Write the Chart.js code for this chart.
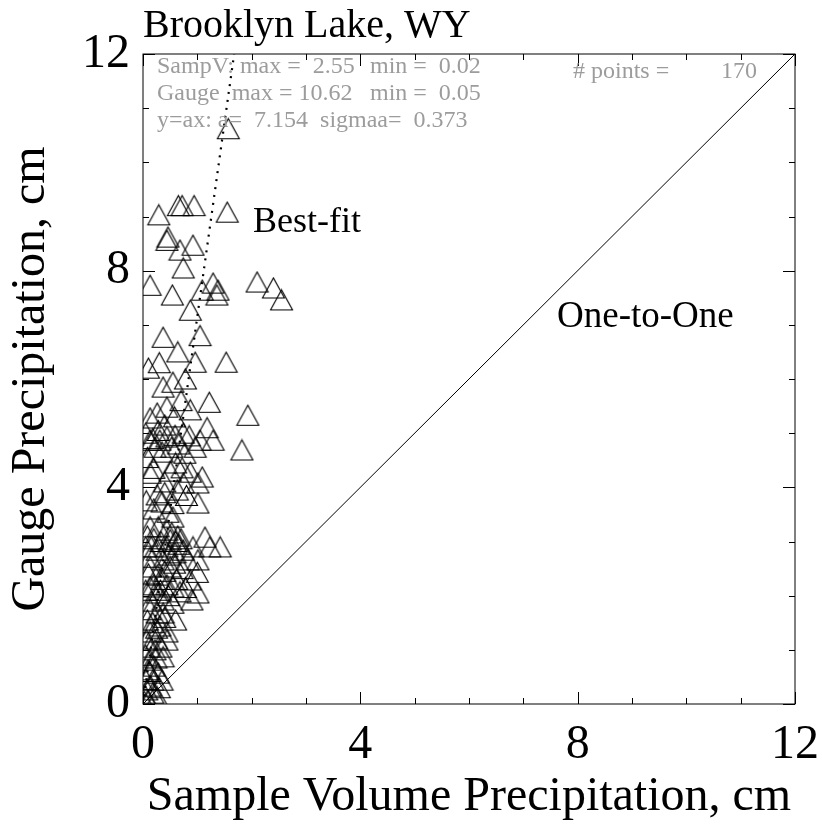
<!DOCTYPE html>
<html><head><meta charset="utf-8">
<script src="https://cdn.jsdelivr.net/npm/chart.js@4"></script>
<style>html,body{margin:0;padding:0;background:#fff;}#wrap{width:822px;height:826px;}</style>
</head><body><div id="wrap"><canvas id="c" width="822" height="826"></canvas></div>
<script>
const chartTitle = "Brooklyn Lake, WY";
const xTitle = "Sample Volume Precipitation, cm";
const yTitle = "Gauge Precipitation, cm";
const axisTickLabels = [0, 4, 8, 12];
const fitSlope = 7.154;
const fitSigma = 0.373;
const oneToOneEnds = [0, 12];

const sampleV = [
 1.57,1.55,0.29,0.72,0.65,0.94,0.44,0.46,0.68,0.92,
 0.74,0.13,0.54,1.09,1.29,1.38,1.36,2.10,2.40,2.55,
 0.87,0.37,0.64,0.96,1.53,0.37,0.55,1.22,1.93,1.82,
 0.87,0.44,0.26,0.13,1.18,1.29,1.05,0.96,0.74,0.59,
 0.44,0.31,0.13,0.53,0.35,0.22,0.77,0.72,0.87,0.13,
 1.09,1.01,0.74,0.63,0.26,0.35,1.01,0.46,0.55,0.13,
 0.28,0.44,0.53,0.50,0.64,1.14,1.42,1.23,0.92,0.74,
 1.01,0.83,0.59,0.44,0.26,0.13,0.37,0.50,0.13,0.26,
 1.00,0.87,1.01,0.90,0.68,0.55,0.44,0.13,0.26,0.37,
 0.55,0.13,0.26,0.37,0.18,0.31,0.44,0.13,0.07,0.44,
 0.22,0.37,0.13,0.09,0.28,0.18,0.35,0.07,0.18,0.26,
 0.09,0.02,0.60,0.70,0.66,0.58,0.48,0.40,0.33,0.20,
 0.08,0.05,0.10,0.20,0.32,0.47,0.62,0.72,0.78,0.15,
 0.08,0.25,0.33,0.11,0.05,0.20,0.05,0.14,0.30,0.04,
 0.12,0.24,0.50,0.60,0.40,0.20,0.08,0.28,0.05,0.18,
 0.66,0.85,0.40,0.58,0.70,0.20,0.06,0.40,0.80,0.55,
 0.10,0.30,0.78,1.05,0.25,0.40,0.60,0.15,0.35,0.05
];
const gauge = [
 10.62,9.08,9.03,9.20,9.20,9.20,8.56,8.62,8.38,8.47,
 8.05,7.73,7.55,7.64,7.77,7.64,7.55,7.79,7.68,7.46,
 7.27,6.77,6.50,6.31,6.31,5.85,5.94,5.57,5.33,4.69,
 5.43,5.48,5.37,5.28,5.10,4.87,4.87,4.74,5.00,4.96,
 4.93,4.87,4.87,4.74,4.65,4.74,4.63,4.36,4.28,4.26,
 4.19,4.08,4.08,3.95,3.86,3.73,3.71,3.54,3.45,3.27,
 3.27,3.21,3.16,3.03,3.10,3.08,2.90,2.90,2.90,2.84,
 2.66,2.66,2.79,2.90,2.84,2.71,2.66,2.53,2.53,2.38,
 2.43,2.29,2.05,1.92,2.07,2.16,2.20,2.16,2.05,1.92,
 1.86,1.74,1.68,1.68,1.50,1.44,1.33,1.33,1.18,1.18,
 1.00,0.87,0.81,0.63,0.57,0.44,0.44,0.26,0.20,0.13,
 0.07,0.05,3.00,3.05,2.95,2.60,2.75,2.45,3.00,3.05,
 3.10,2.90,2.40,2.20,2.10,2.00,2.30,2.50,2.15,1.90,
 1.55,1.20,1.05,1.05,0.90,0.70,0.45,0.33,0.30,0.15,
 0.60,0.85,4.30,4.45,4.10,4.35,4.55,5.05,5.00,4.90,
 4.80,4.95,5.15,5.30,5.60,3.60,3.75,3.90,3.85,3.70,
 6.20,6.30,6.00,6.80,1.40,1.60,1.55,2.90,2.30,2.10
];

function makeTriangle() {
  const c = document.createElement('canvas');
  c.width = 25; c.height = 23;
  const g = c.getContext('2d');
  g.strokeStyle = '#000'; g.lineWidth = 1.1;
  g.beginPath(); g.moveTo(1.5, 21.5); g.lineTo(12.5, 1.5); g.lineTo(23.5, 21.5); g.closePath(); g.stroke();
  return c;
}

const SERIF = '"Liberation Serif", "Times New Roman", serif';
const GRAY = '#9c9c9c';

function zeroPad(s) { s.paddingLeft = 0; s.paddingRight = 0; s.paddingTop = 0; s.paddingBottom = 0; }

const framePlugin = {
  id: 'frame',
  afterDatasetsDraw(chart) {
    const ctx = chart.ctx, a = chart.chartArea;
    const xs = chart.scales.x, ys = chart.scales.y;
    ctx.save();
    ctx.strokeStyle = '#000'; ctx.lineWidth = 1;
    ctx.strokeRect(a.left, a.top, a.right - a.left, a.bottom - a.top);
    ctx.beginPath();
    for (let v = 0; v <= 12; v++) {
      const len = v % 4 === 0 ? 12 : 6;
      const px = Math.round(xs.getPixelForValue(v)) + 0.5;
      ctx.moveTo(px, a.bottom); ctx.lineTo(px, a.bottom - len);
      ctx.moveTo(px, a.top); ctx.lineTo(px, a.top + len);
      const py = Math.round(ys.getPixelForValue(v)) + 0.5;
      ctx.moveTo(a.left, py); ctx.lineTo(a.left + len, py);
      ctx.moveTo(a.right, py); ctx.lineTo(a.right - len, py);
    }
    ctx.stroke();

    // title
    ctx.fillStyle = '#000';
    ctx.textBaseline = 'alphabetic';
    ctx.textAlign = 'left';
    ctx.font = '40px ' + SERIF;
    ctx.fillText(chartTitle, a.left, 37);

    // stats text
    ctx.fillStyle = GRAY;
    ctx.font = '24px ' + SERIF;
    const xMax = Math.max(...sampleV).toFixed(2), xMin = Math.min(...sampleV).toFixed(2);
    const yMax = Math.max(...gauge).toFixed(2), yMin = Math.min(...gauge).toFixed(2);
    const L = a.left + 14;
    ctx.textAlign = 'left';
    ctx.fillText('SampV: max =  ' + xMax, L, 73);
    ctx.fillText('min =  ' + xMin, 370, 73);
    ctx.fillText('Gauge  max = ' + yMax, L, 100);
    ctx.fillText('min =  ' + yMin, 370, 100);
    ctx.fillText('y=ax: a=  ' + fitSlope.toFixed(3) + '  sigmaa=  ' + fitSigma.toFixed(3), L, 127);
    ctx.fillText('# points =', 573, 78);
    ctx.textAlign = 'right';
    ctx.fillText(String(sampleV.length), 757, 78);

    // line labels
    ctx.fillStyle = '#000';
    ctx.textAlign = 'left';
    ctx.font = '36px ' + SERIF;
    ctx.fillText('Best-fit', 253, 232);
    ctx.font = '37px ' + SERIF;
    ctx.fillText('One-to-One', 557, 327);
    ctx.restore();
  }
};

const pts = sampleV.map((x, i) => ({x: x, y: gauge[i]}));

new Chart(document.getElementById('c'), {
  type: 'scatter',
  data: {
    datasets: [
      {
        data: pts,
        pointStyle: makeTriangle(),
        pointRadius: 12,
        pointHoverRadius: 12,
        showLine: false
      },
      {
        data: oneToOneEnds.map(v => ({x: v, y: v})),
        showLine: true,
        borderColor: '#000',
        borderWidth: 1,
        pointRadius: 0,
        fill: false
      },
      {
        data: [{x: 0, y: 0}, {x: 12 / fitSlope, y: 12}],
        showLine: true,
        borderColor: '#000',
        borderWidth: 2.2,
        borderDash: [2, 6],
        borderCapStyle: 'butt',
        pointRadius: 0,
        fill: false
      }
    ]
  },
  options: {
    responsive: false,
    devicePixelRatio: 1,
    animation: false,
    events: [],
    layout: {padding: {top: 54, right: 27, left: 0, bottom: 0}},
    plugins: {legend: {display: false}, tooltip: {enabled: false}, title: {display: false}},
    scales: {
      x: {
        type: 'linear', position: 'bottom', min: 0, max: 12,
        afterFit(s) { s.height = 122; zeroPad(s); },
        afterBuildTicks(s) { s.ticks = axisTickLabels.map(v => ({value: v})); },
        grid: {display: false, drawTicks: false},
        border: {display: false},
        ticks: {color: '#000', font: {family: SERIF, size: 48}, padding: 13, maxRotation: 0, autoSkip: false},
        title: {display: true, text: xTitle, color: '#000', font: {family: SERIF, size: 48}, padding: {top: 0, bottom: 0}}
      },
      y: {
        type: 'linear', position: 'left', min: 0, max: 12,
        afterFit(s) { s.width = 143; zeroPad(s); },
        afterBuildTicks(s) { s.ticks = axisTickLabels.map(v => ({value: v})); },
        grid: {display: false, drawTicks: false},
        border: {display: false},
        ticks: {color: '#000', font: {family: SERIF, size: 48}, padding: 13, autoSkip: false},
        title: {display: true, text: yTitle, color: '#000', font: {family: SERIF, size: 48}, padding: {top: 3, bottom: 0}}
      }
    }
  },
  plugins: [framePlugin]
});
</script>
</body></html>
